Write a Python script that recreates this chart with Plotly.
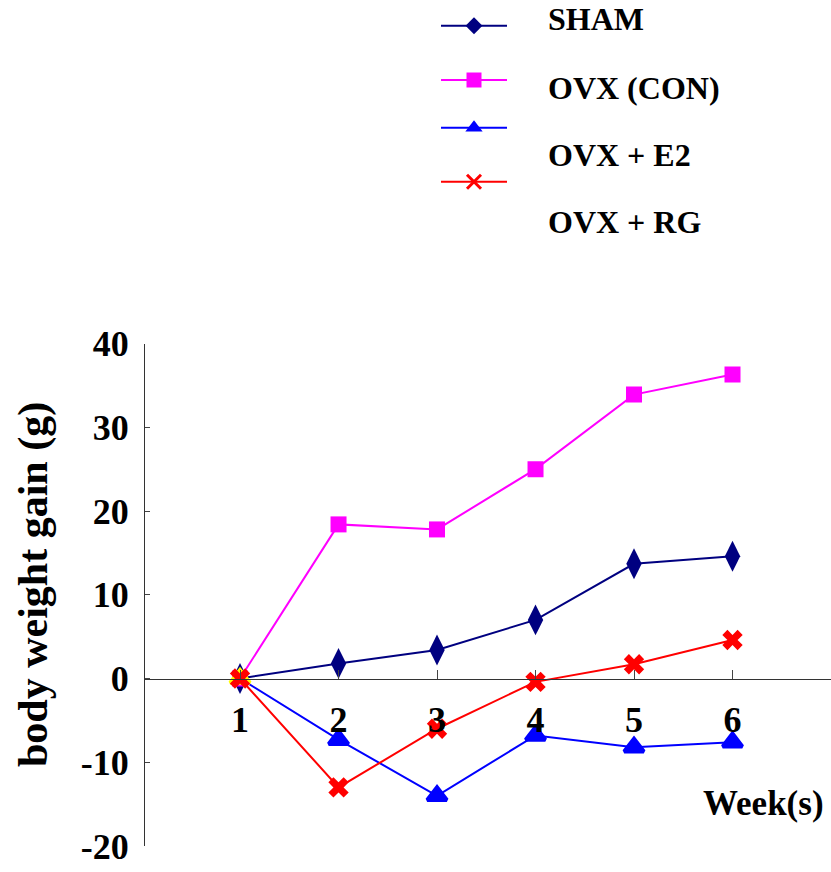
import plotly.graph_objects as go

W, H = 831, 872

weeks = [1, 2, 3, 4, 5, 6]
series_names = ["SHAM", "OVX (CON)", "OVX + E2", "OVX + RG"]
sham = [0, 1.8, 3.4, 7.0, 13.7, 14.6]
ovx_con = [0, 18.4, 17.8, 25.0, 33.9, 36.3]
ovx_e2 = [0, -7.3, -14.0, -6.8, -8.2, -7.6]
ovx_rg = [0, -13.0, -6.0, -0.4, 1.7, 4.6]
y_ticks = [-20, -10, 0, 10, 20, 30, 40]
y_tick_labels = ["-20", "-10", "0", "10", "20", "30", "40"]
x_ticks = [1, 2, 3, 4, 5, 6]

colors = ["#000080", "#FF00FF", "#0000FF", "#FF0000"]
FONT = "Liberation Serif"

# plot area in pixels
L, R, T, B = 144, 831, 343.5, 846

fig = go.Figure()

styles = [
    dict(symbol="diamond-tall", size=22, lw=0),
    dict(symbol="square", size=16, lw=0),
    dict(symbol="triangle-up", size=17, lw=4),
    dict(symbol="x", size=18, lw=0),
]
data = [sham, ovx_con, ovx_e2, ovx_rg]
for i, (name, ys) in enumerate(zip(series_names, data)):
    mcol = colors[i]
    if i == 2:
        mcol = ["#FFFF00"] + [colors[i]] * (len(ys) - 1)
    fig.add_trace(go.Scatter(
        x=weeks, y=ys, name=name, mode="lines+markers",
        line=dict(color=colors[i], width=2),
        marker=dict(symbol=styles[i]["symbol"], size=styles[i]["size"], color=mcol,
                    line=dict(width=styles[i]["lw"], color=mcol)),
        showlegend=False, xaxis="x", yaxis="y"))

# manual legend (keys offset from labels as in the original)
leg_line_x0, leg_line_x1 = 441, 507
leg_line_y = [25.7, 80, 127.7, 181.7]
leg_text_y = [19.3, 88, 155, 221.7]
leg_syms = [dict(symbol="diamond", size=13, line=dict(width=0)),
            dict(symbol="square", size=15, line=dict(width=0)),
            dict(symbol="triangle-up", size=15, line=dict(width=0)),
            dict(symbol="x-thin-open", size=14, line=dict(width=3, color=colors[3]))]
for i, name in enumerate(series_names):
    ly = leg_line_y[i]
    xm = (leg_line_x0 + leg_line_x1) / 2
    fig.add_trace(go.Scatter(
        x=[leg_line_x0, xm, leg_line_x1], y=[ly, ly, ly],
        mode="lines", line=dict(color=colors[i], width=2),
        showlegend=False, hoverinfo="skip", xaxis="x2", yaxis="y2"))
    fig.add_trace(go.Scatter(
        x=[xm], y=[ly], mode="markers",
        marker=dict(color=colors[i], **leg_syms[i]),
        showlegend=False, hoverinfo="skip", xaxis="x2", yaxis="y2"))
    fig.add_annotation(x=546, y=leg_text_y[i], xref="x2", yref="y2", text=name,
                       showarrow=False, xanchor="left", yanchor="middle",
                       font=dict(family=FONT, size=32, color="black", weight="bold"))

ydom = [(H - B) / H, (H - T) / H]
y0_paper = ydom[0] + (ydom[1] - ydom[0]) * (0 - (-20)) / 60.0

fig.update_layout(
    width=W, height=H,
    margin=dict(l=0, r=0, t=0, b=0, pad=0, autoexpand=False),
    paper_bgcolor="white", plot_bgcolor="rgba(0,0,0,0)",
    xaxis=dict(domain=[L / W, R / W], range=[0.025, 7.0], anchor="free", position=y0_paper,
               tickvals=x_ticks, ticks="inside", ticklen=9, tickcolor="#444",
               showline=True, linecolor="#333", linewidth=1, showgrid=False, zeroline=False,
               automargin=False,
               tickfont=dict(family=FONT, size=36, color="black", weight="bold"),
               ticklabelstandoff=9),
    yaxis=dict(domain=ydom, range=[-20, 40], tickvals=y_ticks, ticktext=y_tick_labels,
               ticks="inside", ticklen=5,
               tickcolor="#444", showline=True, linecolor="#333", linewidth=1,
               showgrid=False, zeroline=False, anchor="free", position=L / W,
               automargin=False,
               tickfont=dict(family=FONT, size=36, color="black", weight="bold"),
               ticklabelstandoff=8),
    xaxis2=dict(domain=[0, 1], range=[0, W], visible=False, anchor="y2", automargin=False),
    yaxis2=dict(domain=[0, 1], range=[H, 0], visible=False, anchor="x2", automargin=False),
    showlegend=False,
)

fig.add_annotation(x=33, y=585, xref="x2", yref="y2", text="body weight gain (g)",
                   textangle=-90, showarrow=False, xanchor="center", yanchor="middle",
                   font=dict(family=FONT, size=42, color="black", weight="bold"))
fig.add_annotation(x=826, y=803, xref="x2", yref="y2", text="Week(s)",
                   showarrow=False, xanchor="right", yanchor="middle",
                   font=dict(family=FONT, size=35, color="black", weight="bold"))

fig.write_html("out.html")
